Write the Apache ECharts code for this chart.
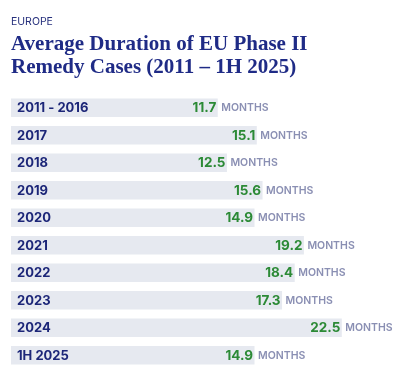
<!DOCTYPE html>
<html>
<head>
<meta charset="utf-8">
<script src="https://cdn.jsdelivr.net/npm/echarts@6/dist/echarts.min.js"></script>
<style>
html,body{margin:0;padding:0;background:#fff;}
#c{width:403px;height:383px;}
</style>
</head>
<body>
<div id="c"></div>
<script>
var categories = ['2011 - 2016','2017','2018','2019','2020','2021','2022','2023','2024','1H 2025'];
var months = [11.7, 15.1, 12.5, 15.6, 14.9, 19.2, 18.4, 17.3, 22.5, 14.9];
var unitLabel = 'MONTHS';
var kicker = 'EUROPE';
var titleText = 'Average Duration of EU Phase II\nRemedy Cases (2011 – 1H 2025)';

var AXIS_MIN = -6.3, AXIS_MAX = 26;
var chart = echarts.init(document.getElementById('c'), null, {renderer:'canvas'});
chart.setOption({
  animation: false,
  title: [
    {text: kicker, left: 6, top: 11,
     textStyle: {fontFamily: 'Inter', fontSize: 10.5, fontWeight: 'normal', color: '#27317d'}},
    {text: titleText, left: 6, top: 28,
     textStyle: {fontFamily: 'Liberation Serif', fontSize: 21, fontWeight: 'bold', color: '#1f2b86', lineHeight: 23}}
  ],
  grid: {left: 11, right: 21, top: 94, bottom: 14},
  xAxis: {type: 'value', min: AXIS_MIN, max: AXIS_MAX, show: false},
  yAxis: {type: 'category', data: categories, inverse: true, show: false},
  series: [{
    type: 'custom',
    data: months.map(function(v, i){ return [v, i]; }),
    encode: {x: 0, y: 1},
    renderItem: function(params, api){
      var v = api.value(0), idx = api.value(1);
      var s = api.coord([AXIS_MIN, idx]);
      var e = api.coord([v, idx]);
      var h = api.size([0, 1])[1] * 0.67;
      return {type: 'group', children: [
        {type: 'rect', shape: {x: s[0], y: s[1] - h/2, width: e[0] - s[0], height: h},
         style: {fill: '#e6e9f0'}},
        {type: 'text', x: s[0] + 6, y: s[1] + 0.5,
         style: {text: categories[idx], fill: '#1c2678', font: 'bold 13px Inter', textAlign: 'left', textVerticalAlign: 'middle'}},
        {type: 'text', x: e[0] - 1.5, y: e[1] + 0.5,
         style: {text: v.toFixed(1), fill: '#2c8a36', font: 'bold 13.5px Inter', textAlign: 'right', textVerticalAlign: 'middle'}},
        {type: 'text', x: e[0] + 3.5, y: e[1] + 0.5,
         style: {text: unitLabel, fill: '#8a8fb3', font: '600 10.5px Inter', textAlign: 'left', textVerticalAlign: 'middle'}}
      ]};
    }
  }]
});
</script>
</body>
</html>
